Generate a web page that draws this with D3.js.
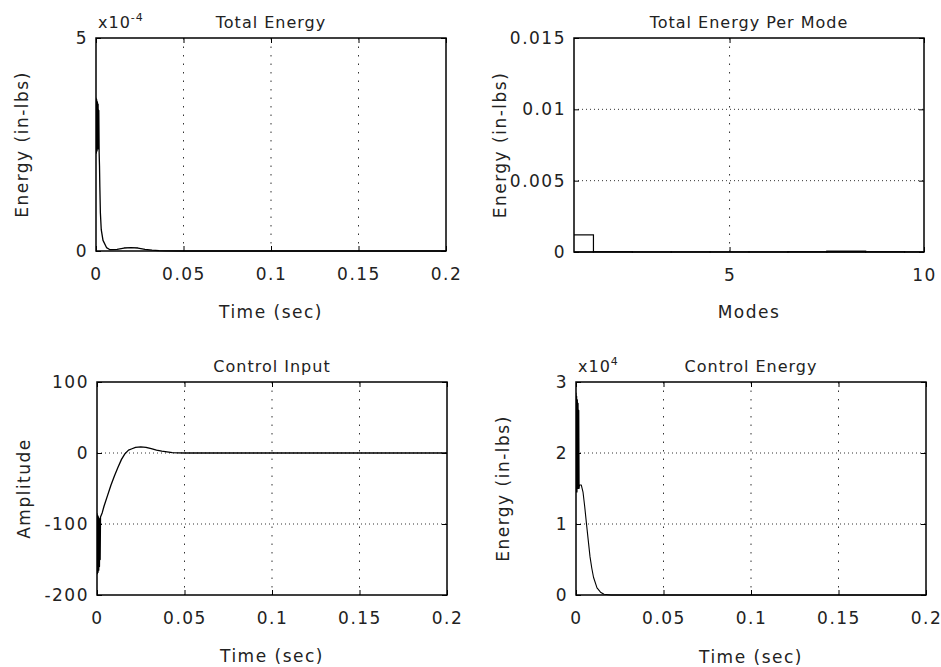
<!DOCTYPE html>
<html>
<head>
<meta charset="utf-8">
<script src="https://cdn.jsdelivr.net/npm/d3@7"></script>
<style>
body { margin: 0; background: #fff; }
text { font-family: "DejaVu Sans", sans-serif; fill: #222; }
.lbl { font-size: 17px; letter-spacing: 1.5px; }
.ttl { font-size: 16px; letter-spacing: 1px; }
.tick text { font-size: 17px; letter-spacing: 1.5px; fill: #222; }
</style>
</head>
<body>
<script>
// ---- data ----
// total energy, in units of 1e-4 in-lbs
var energyTime = [0, 0.0002, 0.0004, 0.0006, 0.0008, 0.001, 0.0012, 0.0014, 0.0016, 0.0018, 0.002,
                  0.0022, 0.0025, 0.003, 0.004, 0.006, 0.008, 0.012, 0.016, 0.02, 0.024, 0.028, 0.032,
                  0.036, 0.04, 0.05, 0.1, 0.15, 0.2];
var energyVal = [3.6, 2.3, 3.55, 2.35, 3.5, 2.4, 3.45, 2.4, 3.3, 2.3, 2.0,
                 1.5, 0.9, 0.5, 0.25, 0.08, 0.03, 0.04, 0.07, 0.08, 0.07, 0.04, 0.02,
                 0.01, 0.005, 0, 0, 0, 0];

// energy per mode
var modes = [1, 2, 3, 4, 5, 6, 7, 8, 9, 10];
var modeEnergy = [0.0012, 0.00002, 0.00001, 0.00001, 0.00001, 0.00001, 0.00002, 0.00006, 0.00002, 0.00001];

// control input amplitude
var inputTime = [0, 0.0002, 0.0004, 0.0006, 0.0008, 0.001, 0.0012, 0.0014, 0.0016, 0.0018, 0.002,
                 0.003, 0.004, 0.006, 0.008, 0.01, 0.012, 0.014, 0.016, 0.018, 0.02, 0.022, 0.025,
                 0.028, 0.031, 0.034, 0.037, 0.04, 0.043, 0.046, 0.05, 0.06, 0.1, 0.15, 0.2];
var inputVal = [-85, -170, -88, -168, -90, -165, -92, -160, -95, -150, -90,
                -84, -75, -60, -45, -32, -20, -9, -1, 4, 6, 8, 8.5,
                8, 6, 4, 2.5, 1.5, 0.5, 0.3, 0, 0, 0, 0, 0];

// control energy, in units of 1e4 in-lbs
var ctrlTime = [0, 0.0002, 0.0004, 0.0006, 0.0008, 0.001, 0.0012, 0.0014, 0.0016, 0.0018, 0.002,
                0.003, 0.004, 0.005, 0.006, 0.007, 0.008, 0.009, 0.01, 0.012, 0.014, 0.016,
                0.02, 0.05, 0.1, 0.15, 0.2];
var ctrlVal = [2.85, 1.45, 2.8, 1.45, 2.75, 1.5, 2.7, 1.5, 2.6, 1.5, 1.55,
               1.55, 1.45, 1.24, 1.0, 0.77, 0.54, 0.38, 0.25, 0.1, 0.04, 0.01,
               0, 0, 0, 0, 0];

var timeTicks = [0, 0.05, 0.1, 0.15, 0.2];

var svg = d3.select("body").append("svg")
    .attr("width", 941)
    .attr("height", 667);
svg.append("rect").attr("width", 941).attr("height", 667).attr("fill", "#fff");

var clipId = 0;

// draws one subplot frame: grid, inward ticks, labels, box
function makePanel(box, xDom, yDom, xTicks, yTicks, xFmt, yFmt) {
  var x = d3.scaleLinear().domain(xDom).range([box.left, box.right]);
  var y = d3.scaleLinear().domain(yDom).range([box.bottom, box.top]);
  var g = svg.append("g");

  // dotted grid on interior ticks (vertical ones came out sparse in the scan)
  g.selectAll(".vgrid")
    .data(xTicks.filter(function(d) { return d > xDom[0] && d < xDom[1]; }))
    .enter().append("line")
    .attr("x1", function(d) { return x(d); }).attr("x2", function(d) { return x(d); })
    .attr("y1", box.top).attr("y2", box.bottom)
    .attr("stroke", "#333").attr("stroke-width", 1).attr("stroke-dasharray", "1.5,7");
  g.selectAll(".hgrid")
    .data(yTicks.filter(function(d) { return d > yDom[0] && d < yDom[1]; }))
    .enter().append("line")
    .attr("y1", function(d) { return y(d); }).attr("y2", function(d) { return y(d); })
    .attr("x1", box.left).attr("x2", box.right)
    .attr("stroke", "#333").attr("stroke-width", 1).attr("stroke-dasharray", "1,3");

  var noDomain = function(a) { a.select(".domain").remove(); };

  g.append("g").attr("transform", "translate(0," + box.bottom + ")")
    .call(d3.axisBottom(x).tickValues(xTicks).tickSize(-5).tickPadding(17).tickFormat(xFmt))
    .call(noDomain);
  g.append("g").attr("transform", "translate(0," + box.top + ")")
    .call(d3.axisTop(x).tickValues(xTicks).tickSize(-5).tickFormat(""))
    .call(noDomain);
  g.append("g").attr("transform", "translate(" + box.left + ",0)")
    .call(d3.axisLeft(y).tickValues(yTicks).tickSize(-5).tickPadding(8).tickFormat(yFmt))
    .call(noDomain);
  g.append("g").attr("transform", "translate(" + box.right + ",0)")
    .call(d3.axisRight(y).tickValues(yTicks).tickSize(-5).tickFormat(""))
    .call(noDomain);

  g.append("rect")
    .attr("x", box.left).attr("y", box.top)
    .attr("width", box.right - box.left).attr("height", box.bottom - box.top)
    .attr("fill", "none").attr("stroke", "#000").attr("stroke-width", 1.5);

  clipId++;
  svg.append("clipPath").attr("id", "clip" + clipId)
    .append("rect")
    .attr("x", box.left).attr("y", box.top - 1)
    .attr("width", box.right - box.left).attr("height", box.bottom - box.top + 2);
  var plot = svg.append("g").attr("clip-path", "url(#clip" + clipId + ")");

  return {x: x, y: y, g: g, plot: plot, box: box};
}

function labels(p, title, xlab, ylab, yLabX, titleY, xlabY) {
  var cx = (p.box.left + p.box.right) / 2;
  svg.append("text").attr("class", "ttl").attr("x", cx).attr("y", titleY)
    .attr("text-anchor", "middle").text(title);
  svg.append("text").attr("class", "lbl").attr("x", cx).attr("y", xlabY)
    .attr("text-anchor", "middle").text(xlab);
  var cy = (p.box.top + p.box.bottom) / 2;
  svg.append("text").attr("class", "lbl")
    .attr("transform", "translate(" + yLabX + "," + cy + ") rotate(-90)")
    .attr("dy", "0.35em").attr("text-anchor", "middle").text(ylab);
}

function exponent(x, yb, power) {
  var t = svg.append("text").attr("class", "ttl").attr("x", x).attr("y", yb).text("x10");
  t.append("tspan").attr("dy", -7).style("font-size", "11px").text(power);
}

function drawLine(p, xs, ys, width) {
  var line = d3.line()
    .x(function(d, i) { return p.x(xs[i]); })
    .y(function(d, i) { return p.y(ys[i]); });
  p.plot.append("path")
    .datum(ys)
    .attr("d", line)
    .attr("fill", "none")
    .attr("stroke", "#000")
    .attr("stroke-width", width)
    .attr("stroke-linejoin", "round");
}

var fmt = function(d) { return String(d); };

// ---- Total Energy ----
var p1 = makePanel({left: 96, top: 38, right: 446, bottom: 251}, [0, 0.2], [0, 5], timeTicks, [0, 5], fmt, fmt);
drawLine(p1, energyTime, energyVal, 1.3);
labels(p1, "Total Energy", "Time (sec)", "Energy (in-lbs)", 22, 28, 318);
exponent(98, 28, "-4");

// ---- Total Energy Per Mode ----
var p2 = makePanel({left: 574, top: 38, right: 924, bottom: 252}, [1, 10], [0, 0.015], [5, 10], [0, 0.005, 0.01, 0.015], fmt, fmt);
p2.plot.selectAll(".bar")
  .data(modes)
  .enter().append("rect")
  .attr("class", "bar")
  .attr("x", function(d) { return p2.x(d - 0.5); })
  .attr("width", function(d) { return p2.x(d + 0.5) - p2.x(d - 0.5); })
  .attr("y", function(d, i) { return p2.y(modeEnergy[i]); })
  .attr("height", function(d, i) { return p2.y(0) - p2.y(modeEnergy[i]); })
  .attr("fill", "none")
  .attr("stroke", "#000")
  .attr("stroke-width", 1.2);
labels(p2, "Total Energy Per Mode", "Modes", "Energy (in-lbs)", 500, 28, 318);

// ---- Control Input ----
var p3 = makePanel({left: 97, top: 382, right: 447, bottom: 595}, [0, 0.2], [-200, 100], timeTicks, [-200, -100, 0, 100], fmt, fmt);
drawLine(p3, inputTime, inputVal, 1.3);
labels(p3, "Control Input", "Time (sec)", "Amplitude", 24, 372, 662);

// ---- Control Energy ----
var p4 = makePanel({left: 576, top: 382, right: 926, bottom: 595}, [0, 0.2], [0, 3], timeTicks, [0, 1, 2, 3], fmt, fmt);
drawLine(p4, ctrlTime, ctrlVal, 1.1);
labels(p4, "Control Energy", "Time (sec)", "Energy (in-lbs)", 503, 372, 663);
exponent(578, 372, "4");
</script>
</body>
</html>
